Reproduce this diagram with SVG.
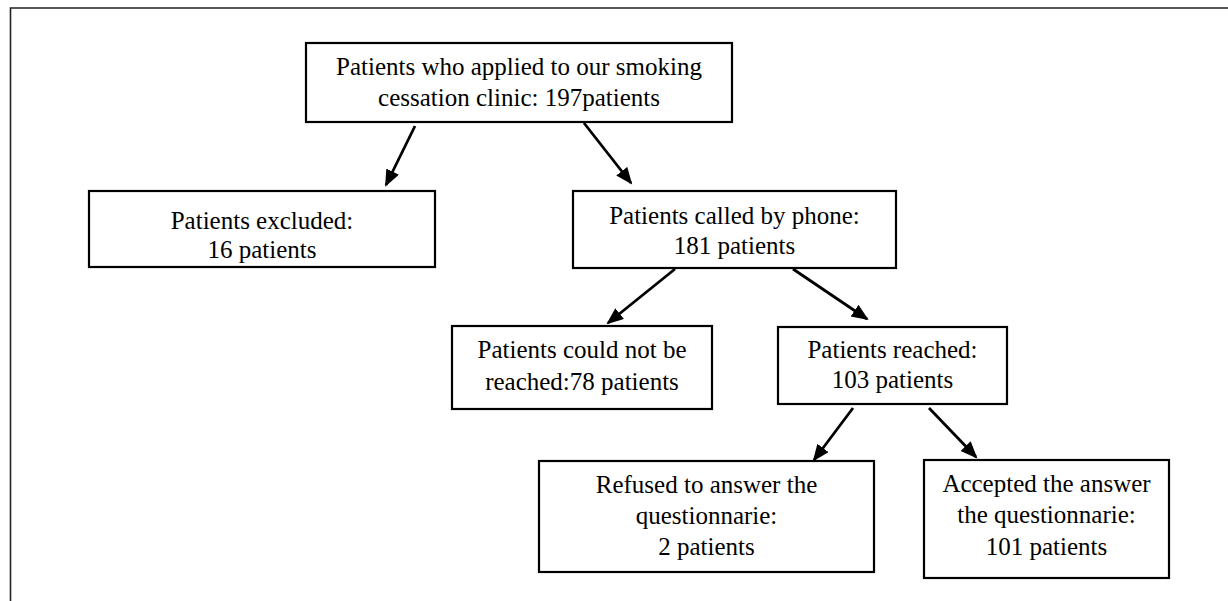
<svg xmlns="http://www.w3.org/2000/svg" width="1228" height="601" viewBox="0 0 1228 601">
  <style>
    .box { fill: #ffffff; stroke: #000000; stroke-width: 2.2; }
    .lbl { font-family: "Liberation Serif", "Times New Roman", serif; font-size: 25px; fill: #000000; text-anchor: middle; }
    .conn { fill: none; stroke: #000000; stroke-width: 2.8; marker-end: url(#arrow); }
    .frame { fill: none; stroke: #222222; stroke-width: 1.6; }
  </style>
  <defs>
    <marker id="arrow" markerUnits="userSpaceOnUse" markerWidth="18" markerHeight="16" refX="15" refY="7" orient="auto">
      <path d="M0,0 L17,7 L0,14 z" fill="#000000"/>
    </marker>
  </defs>
  <rect width="1228" height="601" fill="#ffffff"/>
  <path class="frame" d="M10.5,601 L10.5,8 L1228,8"/>

  <g id="connectors">
    <line class="conn" x1="415" y1="126" x2="386" y2="185"/>
    <line class="conn" x1="584" y1="123" x2="631" y2="183"/>
    <line class="conn" x1="675" y1="269" x2="608" y2="323"/>
    <line class="conn" x1="793" y1="269" x2="867" y2="319"/>
    <line class="conn" x1="853" y1="408" x2="814" y2="460"/>
    <line class="conn" x1="929" y1="408" x2="976" y2="457"/>
  </g>

  <g id="node-applied">
    <rect class="box" x="306" y="43" width="426" height="79"/>
    <text class="lbl" x="519" y="75">Patients who applied to our smoking</text>
    <text class="lbl" x="519" y="106">cessation clinic: 197patients</text>
  </g>
  <g id="node-excluded">
    <rect class="box" x="89" y="191" width="346" height="76"/>
    <text class="lbl" x="262" y="229">Patients excluded:</text>
    <text class="lbl" x="262" y="258">16 patients</text>
  </g>
  <g id="node-called">
    <rect class="box" x="573" y="191" width="323" height="77"/>
    <text class="lbl" x="734.5" y="224">Patients called by phone:</text>
    <text class="lbl" x="734.5" y="254">181 patients</text>
  </g>
  <g id="node-notreached">
    <rect class="box" x="452" y="326" width="260" height="83"/>
    <text class="lbl" x="582" y="358">Patients could not be</text>
    <text class="lbl" x="582" y="390">reached:78 patients</text>
  </g>
  <g id="node-reached">
    <rect class="box" x="778" y="327" width="229" height="77"/>
    <text class="lbl" x="892.5" y="358">Patients reached:</text>
    <text class="lbl" x="892.5" y="388">103 patients</text>
  </g>
  <g id="node-refused">
    <rect class="box" x="539" y="461" width="335" height="111"/>
    <text class="lbl" x="706.5" y="493">Refused to answer the</text>
    <text class="lbl" x="706.5" y="524">questionnarie:</text>
    <text class="lbl" x="706.5" y="555">2 patients</text>
  </g>
  <g id="node-accepted">
    <rect class="box" x="924" y="460" width="245" height="118"/>
    <text class="lbl" x="1046.5" y="492">Accepted the answer</text>
    <text class="lbl" x="1046.5" y="523">the questionnarie:</text>
    <text class="lbl" x="1046.5" y="555">101 patients</text>
  </g>
</svg>
